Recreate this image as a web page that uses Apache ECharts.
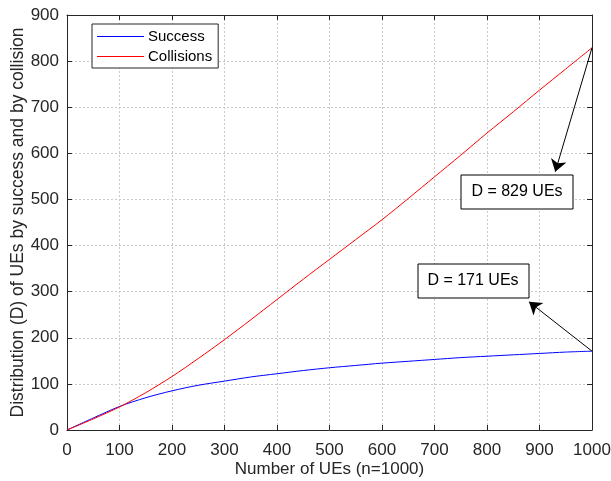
<!DOCTYPE html>
<html>
<head>
<meta charset="utf-8">
<script src="https://cdn.jsdelivr.net/npm/echarts@6/dist/echarts.min.js"></script>
<style>
  html, body { margin: 0; padding: 0; background: #fff; }
  #chart { width: 611px; height: 481px; }
</style>
</head>
<body>
<div id="chart"></div>
<script>
// values, every 50 UEs
const nUEs = [0, 50, 100, 150, 200, 250, 300, 350, 400, 450, 500, 550, 600, 650, 700, 750, 800, 850, 900, 950, 1000];
const success = [0, 26, 51, 70, 85, 97, 106, 115, 122, 129, 135, 140, 145, 149, 153, 157, 160, 163, 166, 169, 171];
const collisions = [0, 24, 50, 81, 116, 155, 196, 239, 283, 327, 370, 413, 456, 502, 549, 596, 644, 690, 737, 783, 829];

const font = 'Liberation Sans, Arial, sans-serif';
const chart = echarts.init(document.getElementById('chart'));

const pairs = (xs, ys) => xs.map((x, i) => [x, ys[i]]);
const last = nUEs.length - 1;

const arrowLine = (from, to) => ({
  silent: true,
  symbol: ['none', 'arrow'],
  symbolSize: 12,
  label: { show: false },
  lineStyle: { color: '#000', width: 1, type: 'solid' },
  itemStyle: { color: '#000' },
  emphasis: { disabled: true },
  data: [[{ coord: from }, { coord: to }]]
});

const axisCommon = {
  type: 'value',
  min: 0,
  interval: 100,
  nameMoveOverlap: false,
  axisLine: { show: true, onZero: false, lineStyle: { color: '#262626', width: 1 } },
  axisTick: { show: true, inside: true, length: 5, lineStyle: { color: '#262626' } },
  axisLabel: { color: '#262626', fontSize: 17, fontFamily: font, formatter: v => String(v) },
  splitLine: { show: true, lineStyle: { color: '#c8c8c8', type: [2, 2], width: 1 } },
  nameTextStyle: { color: '#262626', fontSize: 17, fontFamily: font }
};

chart.setOption({
  animation: false,
  grid: { left: 67, right: 19, top: 15, bottom: 51, outerBoundsMode: 'none', containLabel: false },
  legend: {
    orient: 'vertical',
    left: 92,
    top: 24,
    backgroundColor: '#fff',
    borderColor: '#262626',
    borderWidth: 1,
    padding: [5, 6, 4, 5],
    itemGap: 5,
    itemWidth: 47,
    itemHeight: 1,
    icon: 'rect',
    textStyle: { color: '#000', fontSize: 15, fontFamily: font, padding: [0, 0, 0, -1] },
    data: ['Success', 'Collisions']
  },
  xAxis: [
    Object.assign({}, axisCommon, {
      max: 1000,
      name: 'Number of UEs (n=1000)',
      nameLocation: 'middle',
      nameGap: 31,
      axisLabel: Object.assign({}, axisCommon.axisLabel, { margin: 12 })
    }),
    Object.assign({}, axisCommon, {
      max: 1000,
      position: 'top',
      axisLabel: { show: false },
      splitLine: { show: false }
    })
  ],
  yAxis: [
    Object.assign({}, axisCommon, {
      max: 900,
      name: 'Distribution (D) of UEs by success and by collision',
      nameLocation: 'middle',
      nameGap: 40,
      nameTextStyle: Object.assign({}, axisCommon.nameTextStyle, { fontSize: 17.5 }),
      axisLabel: Object.assign({}, axisCommon.axisLabel, { margin: 8 })
    }),
    Object.assign({}, axisCommon, {
      max: 900,
      position: 'right',
      axisLabel: { show: false },
      splitLine: { show: false }
    })
  ],
  series: [
    {
      name: 'Success',
      type: 'line',
      data: pairs(nUEs, success),
      smooth: 0.3,
      showSymbol: false,
      lineStyle: { color: '#0000ff', width: 1 },
      itemStyle: { color: '#0000ff' },
      markLine: arrowLine([nUEs[last], success[last]], [880, 278])
    },
    {
      name: 'Collisions',
      type: 'line',
      data: pairs(nUEs, collisions),
      smooth: 0.3,
      showSymbol: false,
      lineStyle: { color: '#ff0000', width: 1 },
      itemStyle: { color: '#ff0000' },
      markLine: arrowLine([nUEs[last], collisions[last]], [930, 560])
    }
  ],
  graphic: [
    {
      type: 'rect',
      z: 1,
      shape: { x: 461, y: 175, width: 112, height: 34 },
      style: { fill: '#fff', stroke: '#000', lineWidth: 1 }
    },
    {
      type: 'text',
      z: 1,
      x: 517, y: 192,
      style: { text: 'D = ' + collisions[last] + ' UEs', fill: '#000', font: '16px ' + font, align: 'center', verticalAlign: 'middle' }
    },
    {
      type: 'rect',
      z: 1,
      shape: { x: 418, y: 264, width: 111, height: 34 },
      style: { fill: '#fff', stroke: '#000', lineWidth: 1 }
    },
    {
      type: 'text',
      z: 1,
      x: 473, y: 281,
      style: { text: 'D = ' + success[last] + ' UEs', fill: '#000', font: '16px ' + font, align: 'center', verticalAlign: 'middle' }
    }
  ]
});
</script>
</body>
</html>
